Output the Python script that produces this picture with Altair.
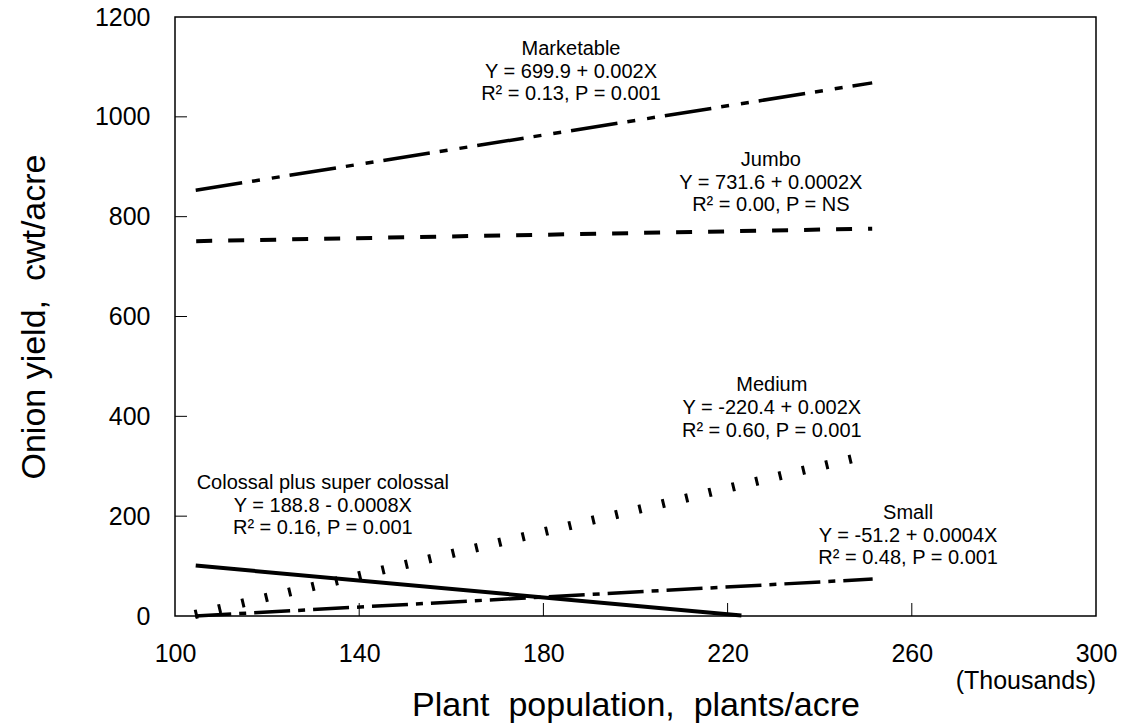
import altair as alt
import pandas as pd

# ---- data ----
series_names = ["Marketable", "Jumbo", "Medium", "Colossal plus super colossal", "Small"]
x_start = [104.5, 104.6, 104.3, 104.5, 104.4]
x_end = [251.4, 251.4, 247.0, 223.0, 251.5]
y_start = [853, 751, 3, 101, 0]
y_end = [1068, 776, 315, 1, 74]

ann_text = [
    "Marketable", "Y = 699.9 + 0.002X", "R\u00b2 = 0.13, P = 0.001",
    "Jumbo", "Y = 731.6 + 0.0002X", "R\u00b2 = 0.00, P = NS",
    "Medium", "Y = -220.4 + 0.002X", "R\u00b2 = 0.60, P = 0.001",
    "Colossal plus super colossal", "Y = 188.8 - 0.0008X", "R\u00b2 = 0.16, P = 0.001",
    "Small", "Y = -51.2 + 0.0004X", "R\u00b2 = 0.48, P = 0.001",
]
ann_x = [186.0, 186.0, 186.0,
         229.4, 229.4, 229.4,
         229.6, 229.6, 229.6,
         132.1, 132.1, 132.1,
         259.2, 259.2, 259.2]
ann_y = [1135, 1090, 1046,
         913, 867, 823,
         463, 417, 370,
         266, 220, 176,
         206, 160, 116]

x_ticks = [100, 140, 180, 220, 260, 300]
y_ticks = [0, 200, 400, 600, 800, 1000, 1200]
unit_label = ["(Thousands)"]
x_title = "Plant\u00a0 population,\u00a0 plants/acre"
y_title = "Onion yield,\u00a0 cwt/acre"

# ---- styles ----
FONT = "Liberation Sans"
styles = {
    "Marketable": dict(strokeDash=[47, 10, 8, 12, 8, 10], strokeWidth=3.5),
    "Jumbo": dict(strokeDash=[16, 16], strokeWidth=4),
    "Medium": dict(strokeDash=[3, 21], strokeWidth=9),
    "Colossal plus super colossal": dict(strokeWidth=4),
    "Small": dict(strokeDash=[36, 8, 7, 8], strokeWidth=3.5),
}

rows = []
for i, name in enumerate(series_names):
    rows.append({"series": name, "x": x_start[i], "y": y_start[i], "o": 0})
    rows.append({"series": name, "x": x_end[i], "y": y_end[i], "o": 1})
df = pd.DataFrame(rows)

W, H = 921, 599
xscale = alt.Scale(domain=[100, 300], nice=False, zero=False)
yscale = alt.Scale(domain=[0, 1200], nice=False, zero=True)
xaxis = alt.Axis(values=x_ticks, format="d", titlePadding=22, labelPadding=25)
yaxis = alt.Axis(values=y_ticks, format="d", titlePadding=43, labelPadding=25)


def X(field="x"):
    return alt.X(f"{field}:Q", scale=xscale, axis=xaxis, title=x_title)


def Y(field="y"):
    return alt.Y(f"{field}:Q", scale=yscale, axis=yaxis, title=y_title)


layers = []
for name in series_names:
    layers.append(
        alt.Chart(df).transform_filter(alt.datum.series == name)
        .mark_line(color="black", strokeCap="butt", **styles[name])
        .encode(x=X(), y=Y(), order="o:Q")
    )

ann_df = pd.DataFrame({"x": ann_x, "y": ann_y, "t": ann_text})
ann = alt.Chart(ann_df).mark_text(font=FONT, fontSize=20, color="black",
                                  align="center", baseline="middle").encode(
    x=X(), y=Y(), text="t:N",
)

ytick_df = pd.DataFrame({"y": y_ticks[1:-1]})
yt = alt.Chart(ytick_df).mark_rule(color="black", strokeWidth=1).encode(
    y=Y(), x=alt.value(0), x2=alt.value(12),
)
xtick_df = pd.DataFrame({"x": x_ticks[1:-1]})
xt = alt.Chart(xtick_df).mark_rule(color="black", strokeWidth=1).encode(
    x=X(), y=alt.value(H), y2=alt.value(H - 13),
)

unit = alt.Chart(pd.DataFrame({"t": unit_label})).mark_text(
    font=FONT, fontSize=25, color="black", align="right", baseline="middle"
).encode(x=alt.value(W), y=alt.value(664), text="t:N")

chart = alt.layer(*layers, ann, yt, xt, unit).properties(
    width=W, height=H,
    autosize=alt.AutoSizeParams(type="none"),
    padding={"left": 175, "top": 17, "right": 29, "bottom": 109},
    background="white",
).configure_view(
    stroke="black", strokeWidth=1.5
).configure_axis(
    domain=False, ticks=False, tickSize=0, grid=False,
    labelFont=FONT, labelFontSize=25, labelColor="black",
    labelFlush=False, labelOverlap=False,
    titleFont=FONT, titleFontSize=34, titleFontWeight="normal", titleColor="black",
)

chart.save("out.html", embed_options={"renderer": "svg", "actions": False})
